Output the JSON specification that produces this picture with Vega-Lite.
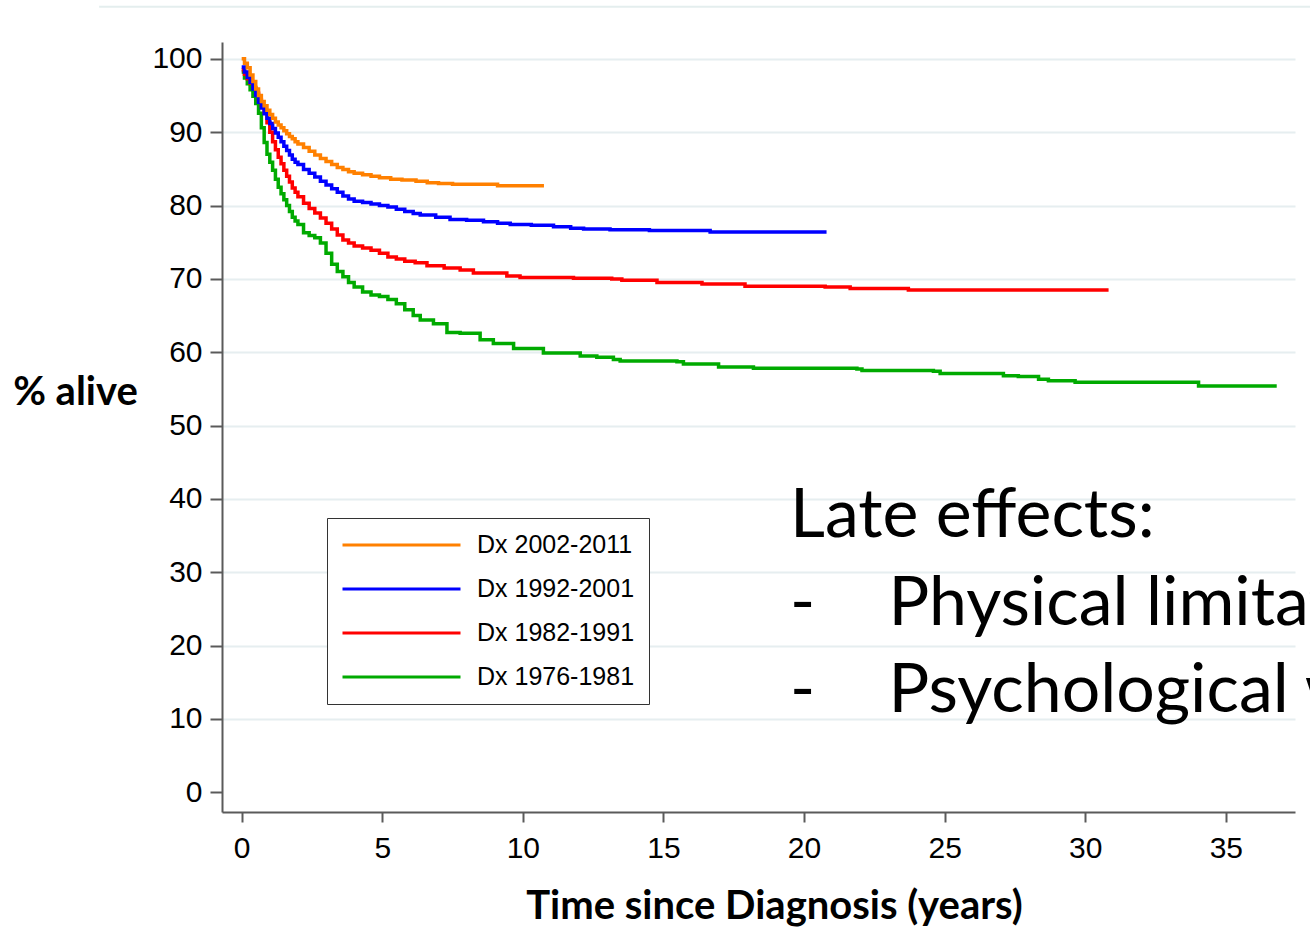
{
  "$schema": "https://vega.github.io/schema/vega-lite/v6.json",
  "width": 1073,
  "height": 770,
  "autosize": {"type": "none"},
  "padding": {"left": 222, "top": 42, "right": 15, "bottom": 115},
  "background": "white",
  "config": {"view": {"stroke": null}, "font": "Liberation Sans"},
  "datasets": {
    "orange": [
      {"t": 0, "s": 100}, {"t": 0.1, "s": 99.4}, {"t": 0.2, "s": 98.8}, {"t": 0.3, "s": 97.8}, {"t": 0.4, "s": 96.9},
      {"t": 0.5, "s": 95.9}, {"t": 0.6, "s": 95.0}, {"t": 0.7, "s": 94.2}, {"t": 0.8, "s": 93.6}, {"t": 0.9, "s": 93.0},
      {"t": 1.0, "s": 92.4}, {"t": 1.1, "s": 91.9}, {"t": 1.2, "s": 91.4}, {"t": 1.3, "s": 91.0}, {"t": 1.4, "s": 90.6},
      {"t": 1.5, "s": 90.2}, {"t": 1.6, "s": 89.8}, {"t": 1.7, "s": 89.4}, {"t": 1.8, "s": 89.1}, {"t": 1.9, "s": 88.7},
      {"t": 2.0, "s": 88.4}, {"t": 2.2, "s": 87.9}, {"t": 2.4, "s": 87.4}, {"t": 2.6, "s": 86.9}, {"t": 2.8, "s": 86.4},
      {"t": 3.0, "s": 86.0}, {"t": 3.2, "s": 85.6}, {"t": 3.4, "s": 85.2}, {"t": 3.6, "s": 84.9}, {"t": 3.8, "s": 84.6},
      {"t": 4.0, "s": 84.4}, {"t": 4.3, "s": 84.2}, {"t": 4.6, "s": 84.0}, {"t": 4.9, "s": 83.8}, {"t": 5.3, "s": 83.6},
      {"t": 5.7, "s": 83.5}, {"t": 6.2, "s": 83.3}, {"t": 6.6, "s": 83.1}, {"t": 7.0, "s": 83.0}, {"t": 7.5, "s": 82.9},
      {"t": 9.1, "s": 82.7}, {"t": 10.75, "s": 82.7}
    ],
    "blue": [
      {"t": 0, "s": 98.9}, {"t": 0.1, "s": 98.2}, {"t": 0.2, "s": 97.5}, {"t": 0.3, "s": 96.8}, {"t": 0.4, "s": 95.9},
      {"t": 0.5, "s": 95.0}, {"t": 0.6, "s": 94.1}, {"t": 0.7, "s": 93.3}, {"t": 0.8, "s": 92.5}, {"t": 0.9, "s": 91.9},
      {"t": 1.0, "s": 91.2}, {"t": 1.1, "s": 90.5}, {"t": 1.2, "s": 89.9}, {"t": 1.3, "s": 89.3}, {"t": 1.4, "s": 88.7},
      {"t": 1.5, "s": 88.1}, {"t": 1.6, "s": 87.5}, {"t": 1.7, "s": 86.9}, {"t": 1.8, "s": 86.3}, {"t": 1.9, "s": 85.9},
      {"t": 2.0, "s": 85.6}, {"t": 2.2, "s": 84.9}, {"t": 2.4, "s": 84.4}, {"t": 2.6, "s": 83.9}, {"t": 2.8, "s": 83.3},
      {"t": 3.0, "s": 82.8}, {"t": 3.2, "s": 82.3}, {"t": 3.4, "s": 81.8}, {"t": 3.6, "s": 81.3}, {"t": 3.8, "s": 80.9},
      {"t": 4.0, "s": 80.6}, {"t": 4.3, "s": 80.4}, {"t": 4.6, "s": 80.2}, {"t": 4.9, "s": 80.0}, {"t": 5.2, "s": 79.8},
      {"t": 5.5, "s": 79.5}, {"t": 5.8, "s": 79.2}, {"t": 6.1, "s": 78.9}, {"t": 6.35, "s": 78.7}, {"t": 6.9, "s": 78.4},
      {"t": 7.41, "s": 78.1}, {"t": 8.0, "s": 78.0}, {"t": 8.6, "s": 77.8}, {"t": 9.1, "s": 77.6}, {"t": 9.55, "s": 77.4},
      {"t": 10.3, "s": 77.3}, {"t": 11.09, "s": 77.1}, {"t": 11.7, "s": 76.9}, {"t": 12.16, "s": 76.8}, {"t": 13.1, "s": 76.7},
      {"t": 14.5, "s": 76.6}, {"t": 16.66, "s": 76.4}, {"t": 20.8, "s": 76.4}
    ],
    "red": [
      {"t": 0, "s": 98.5}, {"t": 0.1, "s": 97.9}, {"t": 0.2, "s": 97.3}, {"t": 0.3, "s": 96.7}, {"t": 0.4, "s": 96.1},
      {"t": 0.5, "s": 95.3}, {"t": 0.6, "s": 94.4}, {"t": 0.7, "s": 93.6}, {"t": 0.8, "s": 92.7}, {"t": 0.9, "s": 91.3},
      {"t": 1.0, "s": 90.0}, {"t": 1.1, "s": 88.7}, {"t": 1.2, "s": 87.6}, {"t": 1.3, "s": 86.6}, {"t": 1.4, "s": 85.7},
      {"t": 1.5, "s": 84.8}, {"t": 1.6, "s": 84.0}, {"t": 1.7, "s": 83.2}, {"t": 1.8, "s": 82.4}, {"t": 1.9, "s": 81.8},
      {"t": 2.0, "s": 81.2}, {"t": 2.2, "s": 80.3}, {"t": 2.4, "s": 79.6}, {"t": 2.6, "s": 79.0}, {"t": 2.8, "s": 78.3},
      {"t": 3.0, "s": 77.6}, {"t": 3.2, "s": 76.8}, {"t": 3.4, "s": 76.0}, {"t": 3.6, "s": 75.3}, {"t": 3.8, "s": 74.9},
      {"t": 4.0, "s": 74.5}, {"t": 4.3, "s": 74.2}, {"t": 4.6, "s": 73.9}, {"t": 4.9, "s": 73.5}, {"t": 5.2, "s": 73.0},
      {"t": 5.5, "s": 72.7}, {"t": 5.8, "s": 72.4}, {"t": 6.17, "s": 72.2}, {"t": 6.59, "s": 71.8}, {"t": 7.2, "s": 71.5},
      {"t": 7.77, "s": 71.2}, {"t": 8.24, "s": 70.8}, {"t": 9.43, "s": 70.4}, {"t": 9.9, "s": 70.2}, {"t": 11.8, "s": 70.1},
      {"t": 13.16, "s": 70.0}, {"t": 13.52, "s": 69.8}, {"t": 14.77, "s": 69.5}, {"t": 16.37, "s": 69.3}, {"t": 17.9, "s": 69.0},
      {"t": 20.75, "s": 68.9}, {"t": 21.64, "s": 68.7}, {"t": 23.71, "s": 68.5}, {"t": 30.83, "s": 68.5}
    ],
    "green": [
      {"t": 0, "s": 98.2}, {"t": 0.1, "s": 97.4}, {"t": 0.2, "s": 96.6}, {"t": 0.3, "s": 95.8}, {"t": 0.4, "s": 94.9},
      {"t": 0.5, "s": 93.9}, {"t": 0.6, "s": 92.6}, {"t": 0.7, "s": 90.6}, {"t": 0.8, "s": 88.6}, {"t": 0.9, "s": 87.0},
      {"t": 1.0, "s": 85.9}, {"t": 1.1, "s": 84.8}, {"t": 1.2, "s": 83.6}, {"t": 1.3, "s": 82.5}, {"t": 1.4, "s": 81.6},
      {"t": 1.5, "s": 80.8}, {"t": 1.6, "s": 80.0}, {"t": 1.7, "s": 79.2}, {"t": 1.8, "s": 78.4}, {"t": 1.9, "s": 77.9},
      {"t": 2.0, "s": 77.4}, {"t": 2.2, "s": 76.3}, {"t": 2.4, "s": 75.9}, {"t": 2.6, "s": 75.6}, {"t": 2.8, "s": 74.9},
      {"t": 3.0, "s": 73.5}, {"t": 3.2, "s": 72.0}, {"t": 3.4, "s": 71.0}, {"t": 3.6, "s": 70.3}, {"t": 3.8, "s": 69.5},
      {"t": 4.0, "s": 68.9}, {"t": 4.3, "s": 68.2}, {"t": 4.6, "s": 67.8}, {"t": 4.9, "s": 67.6}, {"t": 5.2, "s": 67.2},
      {"t": 5.5, "s": 66.6}, {"t": 5.8, "s": 65.8}, {"t": 6.1, "s": 65.0}, {"t": 6.35, "s": 64.4}, {"t": 6.82, "s": 63.9},
      {"t": 7.3, "s": 62.7}, {"t": 7.77, "s": 62.6}, {"t": 8.48, "s": 61.7}, {"t": 8.95, "s": 61.2}, {"t": 9.67, "s": 60.5},
      {"t": 10.73, "s": 59.9}, {"t": 12.04, "s": 59.5}, {"t": 12.63, "s": 59.3}, {"t": 13.22, "s": 59.0}, {"t": 13.46, "s": 58.8},
      {"t": 15.48, "s": 58.7}, {"t": 15.71, "s": 58.4}, {"t": 16.96, "s": 58.0}, {"t": 18.2, "s": 57.8}, {"t": 21.88, "s": 57.7},
      {"t": 22.06, "s": 57.5}, {"t": 24.6, "s": 57.4}, {"t": 24.84, "s": 57.1}, {"t": 27.09, "s": 56.8}, {"t": 27.62, "s": 56.7},
      {"t": 28.34, "s": 56.3}, {"t": 28.69, "s": 56.1}, {"t": 29.64, "s": 55.9}, {"t": 34.03, "s": 55.4}, {"t": 36.81, "s": 55.4}
    ]
  },
  "layer": [
    {
      "data": {"name": "green"},
      "transform": [{"calculate": "'Dx 1976-1981'", "as": "g"}],
      "mark": {"type": "line", "interpolate": "step-after", "strokeWidth": 3.5},
      "encoding": {
        "x": {
          "field": "t",
          "type": "quantitative",
          "title": "Time since Diagnosis (years)",
          "scale": {"domain": [-0.7, 37.46], "nice": false, "zero": false},
          "axis": {
            "values": [0, 5, 10, 15, 20, 25, 30, 35],
            "format": "d",
            "grid": false,
            "labelFont": "Liberation Sans",
            "labelFontSize": 30,
            "labelColor": "black",
            "labelPadding": 11,
            "labelFlush": false,
            "labelOverlap": false,
            "tickSize": 10,
            "tickColor": "#5A5A5A",
            "tickWidth": 2,
            "domainColor": "#5A5A5A",
            "domainWidth": 2,
            "titleFont": "Lato",
            "titleFontWeight": "bold",
            "titleFontSize": 40,
            "titleColor": "black",
            "titleX": 552,
            "titleY": 106,
            "titleAlign": "center",
            "titleBaseline": "alphabetic"
          }
        },
        "y": {
          "field": "s",
          "type": "quantitative",
          "title": "% alive",
          "scale": {"domain": [-2.69, 102.3], "nice": false, "zero": false},
          "axis": {
            "values": [0, 10, 20, 30, 40, 50, 60, 70, 80, 90, 100],
            "format": "d",
            "grid": true,
            "gridColor": "#E6EEF0",
            "gridWidth": 2,
            "gridOpacity": {"condition": {"test": "datum.value === 0", "value": 0}, "value": 1},
            "labelFont": "Liberation Sans",
            "labelFontSize": 30,
            "labelColor": "black",
            "labelPadding": 8,
            "labelFlush": false,
            "labelOverlap": false,
            "tickSize": 12,
            "tickColor": "#5A5A5A",
            "tickWidth": 2,
            "domainColor": "#5A5A5A",
            "domainWidth": 2,
            "titleFont": "Lato",
            "titleFontWeight": "bold",
            "titleFontSize": 40,
            "titleColor": "black",
            "titleAngle": 0,
            "titleX": -147,
            "titleY": 350,
            "titleAlign": "center",
            "titleBaseline": "middle"
          }
        },
        "color": {
          "field": "g",
          "type": "nominal",
          "scale": {
            "domain": ["Dx 2002-2011", "Dx 1992-2001", "Dx 1982-1991", "Dx 1976-1981"],
            "range": ["#FF8000", "#0000FF", "#FF0000", "#00AA00"]
          },
          "legend": {
            "orient": "none",
            "legendX": 105,
            "legendY": 476,
            "title": null,
            "symbolType": "stroke",
            "symbolSize": 13924,
            "symbolStrokeWidth": 3,
            "symbolOpacity": 1,
            "clipHeight": 26,
            "labelFont": "Liberation Sans",
            "labelFontSize": 25,
            "labelColor": "black",
            "labelLimit": 400,
            "labelOffset": 15,
            "rowPadding": 18,
            "padding": 14,
            "strokeColor": "#333333",
            "fillColor": "white"
          }
        }
      }
    },
    {
      "data": {"name": "red"},
      "transform": [{"calculate": "'Dx 1982-1991'", "as": "g"}],
      "mark": {"type": "line", "interpolate": "step-after", "strokeWidth": 3.5},
      "encoding": {
        "x": {"field": "t", "type": "quantitative"},
        "y": {"field": "s", "type": "quantitative"},
        "color": {"field": "g", "type": "nominal"}
      }
    },
    {
      "data": {"name": "blue"},
      "transform": [{"calculate": "'Dx 1992-2001'", "as": "g"}],
      "mark": {"type": "line", "interpolate": "step-after", "strokeWidth": 3.5},
      "encoding": {
        "x": {"field": "t", "type": "quantitative"},
        "y": {"field": "s", "type": "quantitative"},
        "color": {"field": "g", "type": "nominal"}
      }
    },
    {
      "data": {"name": "orange"},
      "transform": [{"calculate": "'Dx 2002-2011'", "as": "g"}],
      "mark": {"type": "line", "interpolate": "step-after", "strokeWidth": 3.5},
      "encoding": {
        "x": {"field": "t", "type": "quantitative"},
        "y": {"field": "s", "type": "quantitative"},
        "color": {"field": "g", "type": "nominal"}
      }
    },
    {
      "data": {"values": [{}]},
      "mark": {"type": "rule", "color": "#E4EEEE", "strokeWidth": 2},
      "encoding": {
        "x": {"datum": -5.07},
        "x2": {"datum": 38.6},
        "y": {"datum": 107.1}
      }
    },
    {
      "data": {"values": [{}]},
      "mark": {"type": "text", "font": "Lato", "fontSize": 68, "align": "left", "baseline": "alphabetic", "color": "black"},
      "encoding": {
        "x": {"datum": 19.5},
        "y": {"datum": 34.8},
        "text": {"value": "Late effects:"}
      }
    },
    {
      "data": {"values": [{}]},
      "mark": {"type": "text", "font": "Lato", "fontSize": 68, "align": "left", "baseline": "alphabetic", "color": "black", "lineHeight": 87},
      "encoding": {
        "x": {"datum": 19.5},
        "y": {"datum": 22.8},
        "text": {"value": ["-", "-"]}
      }
    },
    {
      "data": {"values": [{}]},
      "mark": {"type": "text", "font": "Lato", "fontSize": 68, "align": "left", "baseline": "alphabetic", "color": "black", "lineHeight": 87},
      "encoding": {
        "x": {"datum": 23.0},
        "y": {"datum": 22.8},
        "text": {"value": ["Physical limitations", "Psychological well-being"]}
      }
    }
  ]
}
